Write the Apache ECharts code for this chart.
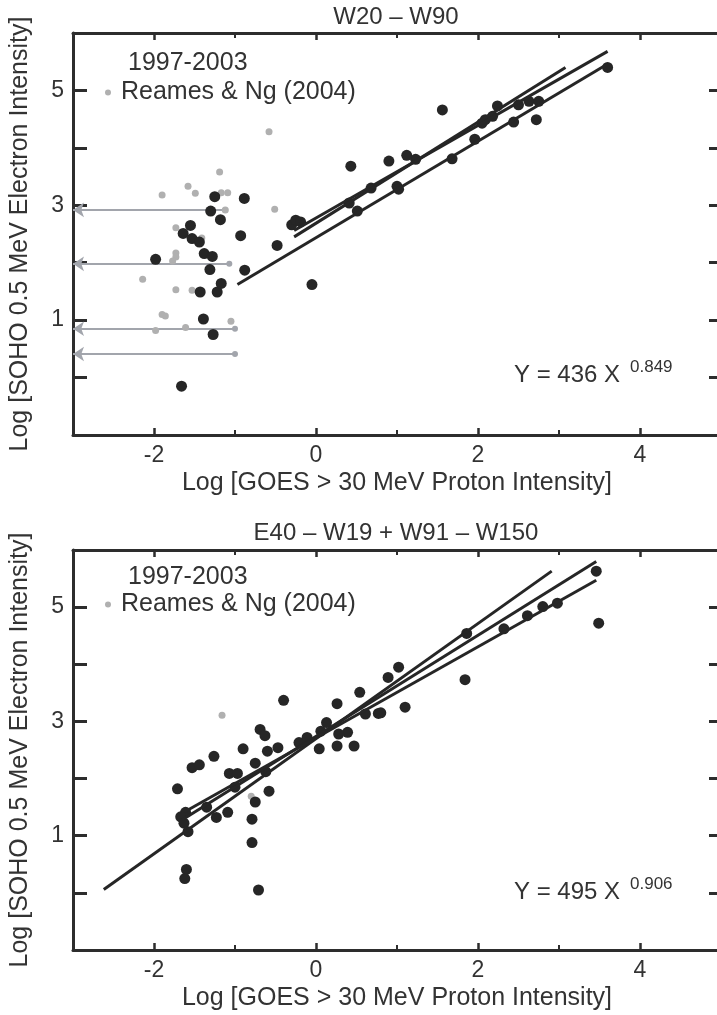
<!DOCTYPE html>
<html><head><meta charset="utf-8">
<script src="https://cdn.jsdelivr.net/npm/echarts@6/dist/echarts.min.js"></script>
<style>html,body{margin:0;padding:0;overflow:hidden;background:#fff}#main{width:725px;height:1015px}</style>
</head><body><div id="main"></div>
<script>
// ---------- data ----------
const xMin = -3, xMax = 5, yMin = -1, yMax = 6;
const xTickMajor = [-2, 0, 2, 4];
const xTickMinor = [-1, 1, 3];
const yTicks = [0, 1, 2, 3, 4, 5];
const yLabels = [1, 3, 5];
const titles = ['W20 – W90', 'E40 – W19 + W91 – W150'];
const xName = 'Log [GOES > 30 MeV Proton Intensity]';
const yName = 'Log [SOHO 0.5 MeV Electron Intensity]';
const periodLabel = '1997-2003';
const refName = 'Reames & Ng (2004)';
const eqMain = ['Y = 436 X', 'Y = 495 X'];
const eqExp = ['0.849', '0.906'];

// top panel (W20 - W90)
const topBlackX = [-1.25,-0.885,-1.30,-1.18,-1.55,-1.64,-1.53,-1.44,-0.93,-1.38,-1.28,-1.98,-1.31,-0.88,-1.43,-1.22,-1.17,-1.39,-1.27,-1.66,-0.48,-0.05,-0.30,-0.25,-0.19,0.43,0.90,1.12,1.23,1.68,1.56,1.96,2.05,2.09,2.18,2.24,2.44,2.50,2.63,2.72,2.75,3.60,1.00,1.02,0.68,0.51,0.41];
const topBlackY = [3.15,3.12,2.90,2.75,2.65,2.51,2.42,2.36,2.47,2.16,2.11,2.06,1.88,1.87,1.49,1.49,1.64,1.02,0.75,-0.15,2.30,1.62,2.66,2.74,2.71,3.68,3.77,3.87,3.80,3.81,4.66,4.15,4.43,4.49,4.55,4.73,4.45,4.75,4.81,4.49,4.81,5.40,3.33,3.28,3.30,2.90,3.04];
const topGrayX = [-0.58,-1.19,-1.58,-1.49,-1.90,-1.17,-1.09,-1.12,-0.51,-1.73,-1.41,-1.73,-1.73,-1.77,-2.14,-1.73,-1.53,-1.90,-1.86,-1.05,-1.98,-1.61];
const topGrayY = [4.28,3.58,3.33,3.21,3.18,3.22,3.22,2.92,2.93,2.61,2.43,2.17,2.10,2.03,1.71,1.53,1.52,1.10,1.07,0.98,0.82,0.87];
const topFitX = [[-0.97, 3.60], [-0.27, 3.60], [-0.27, 3.08]];
const topFitY = [[1.62, 5.46], [2.56, 5.68], [2.45, 5.40]];
const topLimitY = [2.92, 1.98, 0.85, 0.41];
const topLimitX = [-1.12, -1.07, -1.00, -1.00];
const limitToX = -3;

// bottom panel (E40 - W19 + W91 - W150)
const botBlackX = [-0.40,-0.69,-0.63,-1.26,-1.53,-1.44,-0.90,-0.60,-0.47,-0.21,-0.11,-1.07,-0.97,-0.75,-1.71,-0.58,-0.75,-1.09,-1.23,-0.79,-0.79,-1.60,-1.62,-0.71,-1.61,-1.67,-1.63,-1.58,0.04,0.26,0.47,0.26,0.54,0.13,0.06,0.39,0.28,0.77,0.61,0.89,1.02,1.10,0.80,1.84,1.86,2.32,2.61,2.80,2.98,3.46,3.49,-1.00,-0.62,-1.35];
const botBlackY = [3.37,2.86,2.75,2.39,2.19,2.24,2.52,2.48,2.54,2.63,2.72,2.09,2.09,2.27,1.82,1.78,1.59,1.41,1.32,1.29,0.88,0.41,0.25,0.05,1.41,1.33,1.22,1.07,2.52,2.57,2.57,3.31,3.51,2.98,2.83,2.81,2.78,3.14,3.13,3.77,3.95,3.25,3.15,3.73,4.54,4.62,4.85,5.01,5.07,5.63,4.72,1.85,2.12,1.50];
const botGrayX = [-1.16, -0.80];
const botGrayY = [3.11, 1.69];
const botFitX = [[-2.62, 2.91], [-1.65, 3.46], [-1.62, 3.46]];
const botFitY = [[0.06, 5.63], [1.28, 5.80], [1.42, 5.47]];
const botLimitY = [];
const botLimitX = [];

// ---------- styling ----------
const FONT = "'Liberation Sans', Arial, Helvetica, sans-serif";
const INK = '#333333';
const AX = '#2d2d2d';
const grids = [
  {left: 72, top: 33, width: 649, height: 402},
  {left: 72, top: 550, width: 649, height: 400}
];

function xAxesFor(g) {
  const base = {gridIndex: g, type: 'value', min: xMin, max: xMax, splitLine: {show: false}};
  const line = {show: true, onZero: false, lineStyle: {color: AX, width: 3}};
  const noLine = {show: false, onZero: false};
  return [
    Object.assign({}, base, {position: 'bottom', axisLine: line,
      axisTick: {show: true, inside: true, length: 7, customValues: xTickMajor, lineStyle: {color: AX, width: 2.5}},
      axisLabel: {show: true, customValues: xTickMajor, margin: 9, fontSize: 23, color: INK, fontFamily: FONT},
      name: xName, nameLocation: 'middle', nameGap: 36,
      nameTextStyle: {fontSize: 25, color: INK, fontFamily: FONT}}),
    Object.assign({}, base, {position: 'bottom', axisLine: noLine,
      axisTick: {show: true, inside: true, length: 5, customValues: xTickMinor, lineStyle: {color: AX, width: 2}},
      axisLabel: {show: false}}),
    Object.assign({}, base, {position: 'top', axisLine: line,
      axisTick: {show: true, inside: true, length: 7, customValues: xTickMajor, lineStyle: {color: AX, width: 2.5}},
      axisLabel: {show: false}}),
    Object.assign({}, base, {position: 'top', axisLine: noLine,
      axisTick: {show: true, inside: true, length: 5, customValues: xTickMinor, lineStyle: {color: AX, width: 2}},
      axisLabel: {show: false}})
  ];
}
function yAxesFor(g) {
  const base = {gridIndex: g, type: 'value', min: yMin, max: yMax, splitLine: {show: false}};
  const line = {show: true, onZero: false, lineStyle: {color: AX, width: 3}};
  return [
    Object.assign({}, base, {position: 'left', axisLine: line,
      axisTick: {show: true, inside: true, length: 14, customValues: yTicks, lineStyle: {color: AX, width: 3}},
      axisLabel: {show: true, customValues: yLabels, margin: 9, fontSize: 23, color: INK, fontFamily: FONT},
      name: yName, nameLocation: 'middle', nameGap: 40,
      nameTextStyle: {fontSize: 25, color: INK, fontFamily: FONT}}),
    Object.assign({}, base, {position: 'right', axisLine: line,
      axisTick: {show: true, inside: true, length: 12, customValues: yTicks, lineStyle: {color: AX, width: 3}},
      axisLabel: {show: false}})
  ];
}

function zip(xs, ys) { return xs.map((x, i) => [x, ys[i]]); }

function panelSeries(xi, yi, bx, by, gx, gy, fx, fy, lx, ly) {
  const s = [];
  s.push({type: 'lines', coordinateSystem: 'cartesian2d', xAxisIndex: xi, yAxisIndex: yi,
    symbol: ['arrow', 'circle'], symbolSize: [11, 6], z: 1, silent: true,
    lineStyle: {color: '#a2a5ac', width: 2, opacity: 1, curveness: 0},
    data: ly.map((y, i) => ({coords: [[limitToX, y], [lx[i], y]]}))});
  s.push({type: 'scatter', name: refName, xAxisIndex: xi, yAxisIndex: yi, symbolSize: 7, z: 2,
    itemStyle: {color: '#b0b0b0', opacity: 1}, data: zip(gx, gy)});
  s.push({type: 'scatter', name: periodLabel, xAxisIndex: xi, yAxisIndex: yi, symbolSize: 11, z: 3,
    itemStyle: {color: '#262626', opacity: 1}, data: zip(bx, by)});
  fx.forEach((xs, k) => {
    s.push({type: 'line', xAxisIndex: xi, yAxisIndex: yi, showSymbol: false, symbol: 'none', z: 4,
      lineStyle: {color: '#262626', width: 3}, data: zip(xs, fy[k])});
  });
  return s;
}

const series = [].concat(
  panelSeries(0, 0, topBlackX, topBlackY, topGrayX, topGrayY, topFitX, topFitY, topLimitX, topLimitY),
  panelSeries(4, 2, botBlackX, botBlackY, botGrayX, botGrayY, botFitX, botFitY, botLimitX, botLimitY)
);

function txt(text, x, y, size, align) {
  return {type: 'text', x: x, y: y, silent: true,
    style: {text: text, fontSize: size, fontFamily: FONT, fill: INK, align: align || 'left', verticalAlign: 'middle'}};
}

const legendBase = {data: [refName], left: 100, icon: 'circle', itemWidth: 16, itemHeight: 6,
  selectedMode: false, textStyle: {fontSize: 25, color: INK, fontFamily: FONT}};

const option = {
  animation: false,
  backgroundColor: '#ffffff',
  grid: grids,
  xAxis: [].concat(xAxesFor(0), xAxesFor(1)),
  yAxis: [].concat(yAxesFor(0), yAxesFor(1)),
  legend: [Object.assign({}, legendBase, {top: 75}), Object.assign({}, legendBase, {top: 587})],
  graphic: [
    txt(titles[0], 396, 17, 24, 'center'),
    txt(titles[1], 396, 533, 24, 'center'),
    txt(periodLabel, 128, 63, 25),
    txt(periodLabel, 128, 577, 25),
    txt(eqMain[0], 514, 375, 24),
    txt(eqExp[0], 630, 367, 17),
    txt(eqMain[1], 514, 892, 24),
    txt(eqExp[1], 630, 884, 17)
  ],
  series: series
};

const chart = echarts.init(document.getElementById('main'), null, {renderer: 'canvas'});
chart.setOption(option);
</script>
</body></html>
